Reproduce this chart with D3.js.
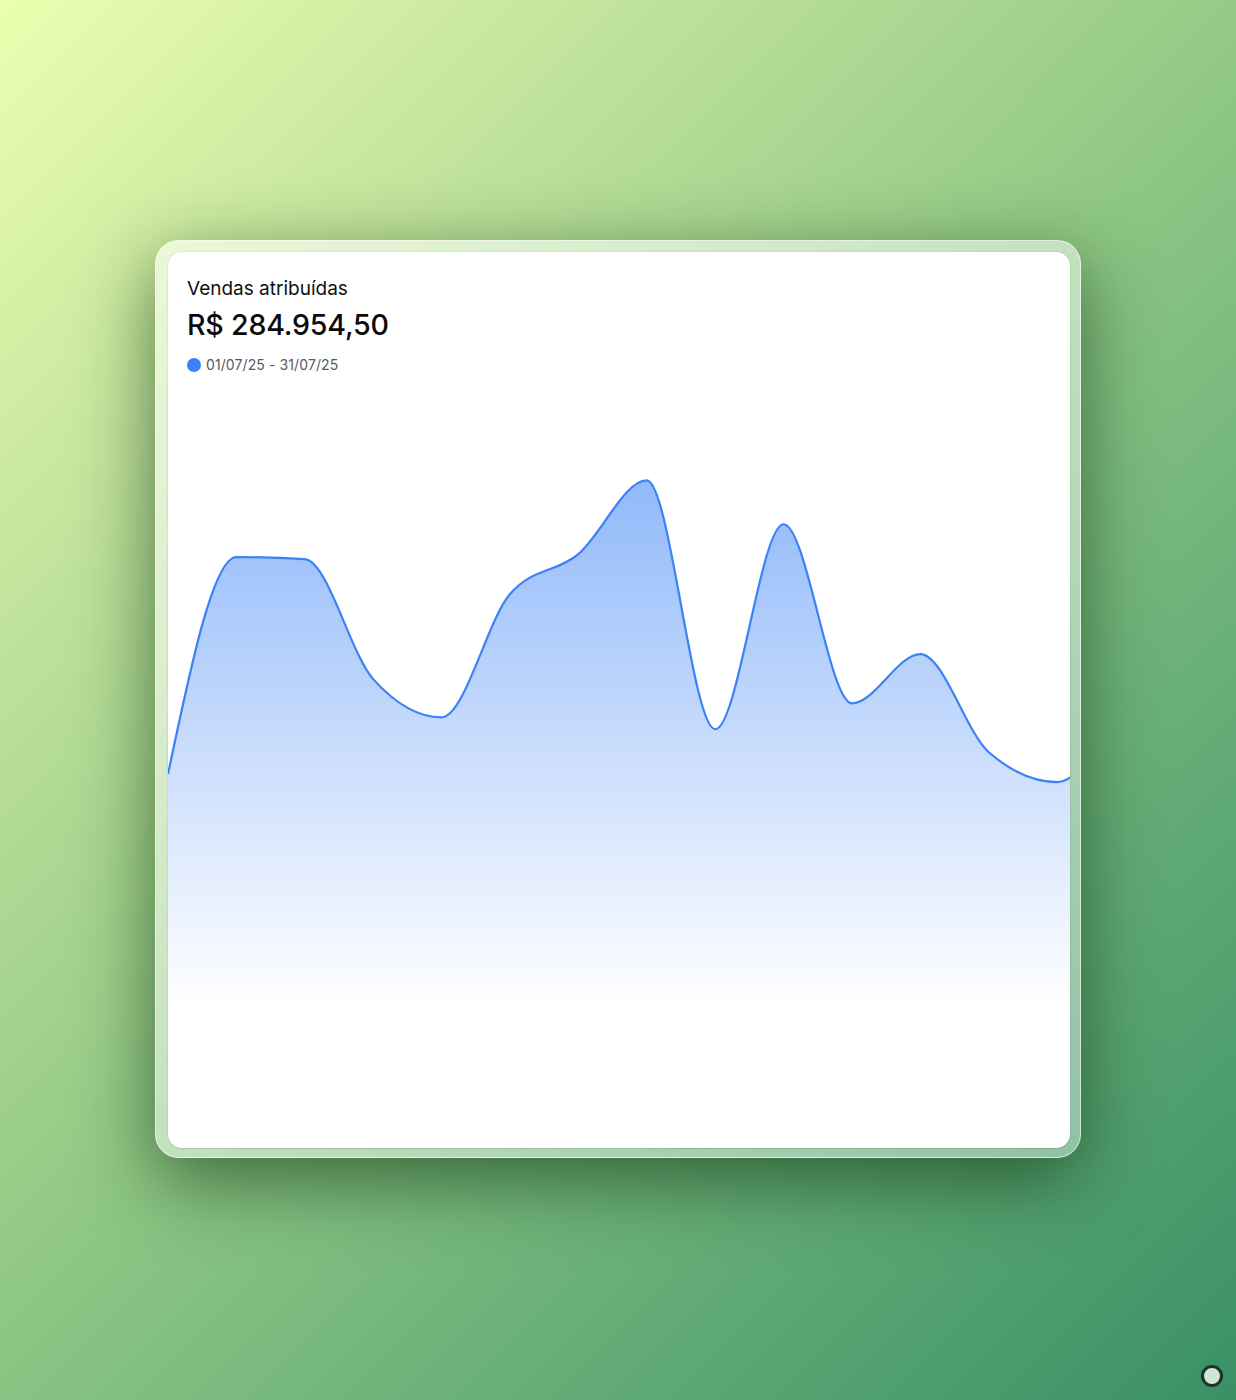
<!DOCTYPE html>
<html>
<head>
<meta charset="utf-8">
<script src="https://cdn.jsdelivr.net/npm/d3@7/dist/d3.min.js"></script>
<style>
  html, body { margin: 0; padding: 0; }
  body {
    width: 1236px; height: 1400px; position: relative; overflow: hidden;
    background: linear-gradient(135deg, #ebffb0 0%, #c2e49c 23%, #8fc785 50%, #62ab76 75%, #3a9065 100%);
    font-family: Inter, "Noto Sans", sans-serif;
  }
  .frame {
    position: absolute; left: 155px; top: 240px; width: 926px; height: 918px;
    border-radius: 24px; box-sizing: border-box;
    background: linear-gradient(135deg, rgba(255,255,255,0.58), rgba(255,255,255,0.36));
    border: 1px solid rgba(255,255,255,0.55);
    box-shadow: 0 22px 75px rgba(20,55,20,0.65);
  }
  .card {
    position: absolute; left: 12px; top: 11px; width: 902px; height: 896px;
    background: #fff; border-radius: 14px; overflow: hidden;
    box-shadow: 0 0 0 1px rgba(0,0,0,0.04), 0 1px 2px rgba(0,0,0,0.08);
  }
  .title { position: absolute; left: 19px; top: 25px; font-size: 19px; color: #111; font-weight: 400; }
  .value { position: absolute; left: 19px; top: 55px; font-size: 28.6px; color: #0a0a0a; font-weight: 500; letter-spacing: -0.2px; }
  .legend { position: absolute; left: 19px; top: 104px; font-size: 14px; color: #555b66; display: flex; align-items: center; letter-spacing: 0.1px; }
  .legend .dot { width: 14px; height: 14px; border-radius: 50%; background: #3b82f6; margin-right: 5px; }
  svg.chart { position: absolute; left: 0; top: 0; }
  .fab {
    position: absolute; left: 1201px; top: 1365px; width: 16px; height: 16px; border-radius: 50%;
    background: #cfe7d9; border: 3px solid #1d3327;
  }
</style>
</head>
<body>
<div class="frame">
  <div class="card" id="card">
    <div class="title">Vendas atribuídas</div>
    <div class="value">R$ 284.954,50</div>
    <div class="legend"><span class="dot"></span><span>01/07/25 - 31/07/25</span></div>
  </div>
</div>
<div class="fab"></div>
<script>
// Data (daily attributed sales, R$)
const days = ["01/07","03/07","05/07","07/07","09/07","11/07","13/07","15/07","17/07","19/07","21/07","23/07","25/07","27/07","29/07"];
const sales = [12500, 19770, 19700, 15680, 14400, 18530, 19870, 22340, 14000, 20870, 14870, 16520, 13230, 12230, 15280];
const seriesColor = "#3b82f6";

const W = 902, H = 896;
const svg = d3.select("#card").append("svg")
  .attr("class", "chart")
  .attr("width", W).attr("height", H);

const x = d3.scalePoint().domain(days).range([0, 957.6]);
const y = d3.scaleLinear().domain([0, 25000]).range([895, 149]);

const defs = svg.append("defs");
const grad = defs.append("linearGradient")
  .attr("id", "fillGrad").attr("x1", 0).attr("y1", 0).attr("x2", 0).attr("y2", 1);
grad.append("stop").attr("offset", "0%").attr("stop-color", seriesColor).attr("stop-opacity", 0.56);
grad.append("stop").attr("offset", "79%").attr("stop-color", seriesColor).attr("stop-opacity", 0);

const data = days.map((d, i) => ({ day: d, v: sales[i] }));

const area = d3.area()
  .x(d => x(d.day)).y0(y(0)).y1(d => y(d.v))
  .curve(d3.curveMonotoneX);
const line = d3.line()
  .x(d => x(d.day)).y(d => y(d.v))
  .curve(d3.curveMonotoneX);

svg.append("path").datum(data).attr("d", area).attr("fill", "url(#fillGrad)");
svg.append("path").datum(data).attr("d", line)
  .attr("fill", "none").attr("stroke", seriesColor).attr("stroke-width", 2.2);
</script>
</body>
</html>
